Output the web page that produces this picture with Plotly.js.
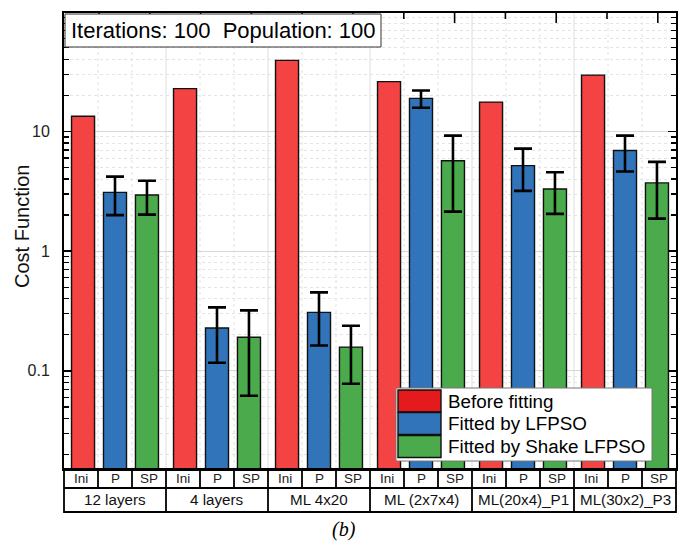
<!DOCTYPE html>
<html>
<head>
<meta charset="utf-8">
<script src="https://cdn.plot.ly/plotly-3.0.1.min.js"></script>
<style>html,body{margin:0;padding:0;background:#fff;}#chart{width:682px;height:543px;}</style>
</head>
<body>
<div id="chart"></div>
<script>
// ---- data ----
const groups = ['12 layers', '4 layers', 'ML 4x20', 'ML (2x7x4)', 'ML(20x4)_P1', 'ML(30x2)_P3'];
const subLabels = ['Ini', 'P', 'SP'];
const seriesNames = ['Before fitting', 'Fitted by LFPSO', 'Fitted by Shake LFPSO'];
const beforeFit = [13.4, 22.8, 39.3, 26.1, 17.6, 29.6];
const lfpso = [3.1, 0.228, 0.308, 18.9, 5.19, 6.93];
const lfpsoErr = [1.1, 0.111, 0.145, 3.1, 2.0, 2.3];
const shake = [2.95, 0.191, 0.158, 5.69, 3.31, 3.72];
const shakeErr = [0.93, 0.129, 0.08, 3.55, 1.26, 1.85];
const annotationText = 'Iterations: 100  Population: 100';
const yTitle = 'Cost Function';
const panelLabel = '(b)';

// ---- styles ----
const barColors = ['#F44343', '#3274BA', '#4BAA4B'];
const legendColors = ['#E41A1C', '#3274BA', '#4BAA4B'];
const FONT = 'Liberation Sans, Arial, sans-serif';

const errStyle = {type: 'data', visible: true, color: '#000', thickness: 2.6, width: 9};
const lineStyle = {color: '#111', width: 1.4};

const traces = [
  {type: 'bar', name: seriesNames[0], x: groups, y: beforeFit,
   marker: {color: barColors[0], line: lineStyle}, showlegend: false},
  {type: 'bar', name: seriesNames[1], x: groups, y: lfpso,
   error_y: Object.assign({array: lfpsoErr}, errStyle),
   marker: {color: barColors[1], line: lineStyle}, showlegend: false},
  {type: 'bar', name: seriesNames[2], x: groups, y: shake,
   error_y: Object.assign({array: shakeErr}, errStyle),
   marker: {color: barColors[2], line: lineStyle}, showlegend: false}
];

// plot area geometry (px) for converting decorations to paper coords
const W = 682, H = 543, mL = 64, mR = 6, mT = 13, mB = 74;
const pw = W - mL - mR, ph = H - mT - mB;
const py = (pxFromTop) => (H - mB - pxFromTop) / ph; // absolute px -> paper y
const nG = groups.length;
const gx = (pos) => pos / nG; // group units -> paper x

const shapes = [];
const annotations = [];

// vertical grid lines: solid at group boundaries, dotted at sub-cell boundaries
for (let g = 1; g < nG; g++) {
  shapes.push({type: 'line', xref: 'paper', yref: 'paper', x0: gx(g), x1: gx(g), y0: 0, y1: 1,
    line: {color: '#dedede', width: 1}, layer: 'below'});
}
for (let g = 0; g < nG; g++) {
  for (let k = 1; k < 3; k++) {
    const xx = gx(g + k / 3);
    shapes.push({type: 'line', xref: 'paper', yref: 'paper', x0: xx, x1: xx, y0: 0, y1: 1,
      line: {color: '#e2e2e2', width: 1, dash: 'dot'}, layer: 'below'});
  }
}

// top axis ticks
for (let k = 0; k < 12; k++) {
  const xx = (35 + 50.8 * k) / pw;
  const len = (k % 2 === 1) ? 10 : 6;
  shapes.push({type: 'line', xref: 'paper', yref: 'paper', x0: xx, x1: xx, y0: 1, y1: 1 - len / ph,
    line: {color: '#000', width: 1.6}});
}

// category table below the plot
const rowTop = 0, rowMid = py(488), rowBot = py(512);
shapes.push({type: 'rect', xref: 'paper', yref: 'paper', x0: 0, x1: 1, y0: rowBot, y1: rowTop,
  line: {color: '#000', width: 1.8}, fillcolor: 'rgba(0,0,0,0)'});
shapes.push({type: 'line', xref: 'paper', yref: 'paper', x0: 0, x1: 1, y0: rowMid, y1: rowMid,
  line: {color: '#000', width: 1.8}});
for (let g = 0; g < nG; g++) {
  if (g > 0) {
    shapes.push({type: 'line', xref: 'paper', yref: 'paper', x0: gx(g), x1: gx(g), y0: rowBot, y1: rowTop,
      line: {color: '#000', width: 1.8}});
  }
  for (let k = 1; k < 3; k++) {
    const xx = gx(g + k / 3);
    shapes.push({type: 'line', xref: 'paper', yref: 'paper', x0: xx, x1: xx, y0: rowMid, y1: rowTop,
      line: {color: '#000', width: 1.8}});
  }
  for (let k = 0; k < 3; k++) {
    annotations.push({xref: 'paper', yref: 'paper', x: gx(g + (k + 0.5) / 3), y: (rowTop + rowMid) / 2,
      text: subLabels[k], showarrow: false, xanchor: 'center', yanchor: 'middle',
      font: {family: FONT, size: 13.5, color: '#222'}});
  }
  annotations.push({xref: 'paper', yref: 'paper', x: gx(g + 0.5), y: (rowMid + rowBot) / 2,
    text: groups[g], showarrow: false, xanchor: 'center', yanchor: 'middle',
    font: {family: FONT, size: 15.2, color: '#111'}});
}

// info box at top-left
shapes.push({type: 'rect', xref: 'paper', yref: 'paper', x0: 1 / pw, x1: (381 - mL) / pw,
  y0: py(47), y1: py(14), line: {color: '#333', width: 1}, fillcolor: '#fff'});
annotations.push({xref: 'paper', yref: 'paper', x: (69 - mL) / pw, y: (py(47) + py(14)) / 2,
  text: annotationText, showarrow: false, xanchor: 'left', yanchor: 'middle',
  font: {family: FONT, size: 22, color: '#000'}});

// custom legend
const lgX0 = (396 - mL) / pw, lgX1 = (652 - mL) / pw;
shapes.push({type: 'rect', xref: 'paper', yref: 'paper', x0: lgX0, x1: lgX1, y0: py(461), y1: py(388),
  line: {color: '#777', width: 1}, fillcolor: '#fff'});
const swTop = [390, 412.5, 435.5];
for (let i = 0; i < 3; i++) {
  shapes.push({type: 'rect', xref: 'paper', yref: 'paper', x0: (398 - mL) / pw, x1: (441 - mL) / pw,
    y0: py(swTop[i] + 22), y1: py(swTop[i]), line: {color: '#111', width: 1.4}, fillcolor: legendColors[i]});
  annotations.push({xref: 'paper', yref: 'paper', x: (446 - mL) / pw, y: py(swTop[i] + 11),
    text: seriesNames[i], showarrow: false, xanchor: 'left', yanchor: 'middle',
    font: {family: FONT, size: 18.8, color: '#000'}});
}

// y-axis title
annotations.push({xref: 'paper', yref: 'paper', x: (22 - mL) / pw, y: py(226),
  text: yTitle, textangle: -90, showarrow: false, xanchor: 'center', yanchor: 'middle',
  font: {family: FONT, size: 20, color: '#111'}});

// panel label
annotations.push({xref: 'paper', yref: 'paper', x: (344 - mL) / pw, y: py(529),
  text: '<i>' + panelLabel + '</i>', showarrow: false, xanchor: 'center', yanchor: 'middle',
  borderpad: 0, font: {family: 'Liberation Serif, Times New Roman, serif', size: 20, color: '#000'}});

const layout = {
  width: W, height: H,
  margin: {l: mL, r: mR, t: mT, b: mB, pad: 0},
  paper_bgcolor: '#fff', plot_bgcolor: '#fff',
  barmode: 'group', bargap: 0.06, bargroupgap: 0.28,
  showlegend: false,
  font: {family: FONT, color: '#000'},
  xaxis: {type: 'category', range: [-0.5, nG - 0.5], showline: true, linecolor: '#000', linewidth: 2,
    mirror: true, ticks: '', showticklabels: false, showgrid: false, zeroline: false, fixedrange: true},
  yaxis: {type: 'log', range: [-1.82, 1.99], showline: true, linecolor: '#000', linewidth: 2,
    mirror: 'allticks', ticks: 'inside', ticklen: 8, tickwidth: 1.6, tickcolor: '#000', dtick: 1,
    showgrid: true, gridcolor: '#d8d8d8', gridwidth: 1, zeroline: false,
    tickfont: {family: FONT, size: 16, color: '#222'}, ticklabelstandoff: 9,
    minor: {ticks: 'inside', ticklen: 5, tickwidth: 1.3, tickcolor: '#000', dtick: 'D1',
      showgrid: true, gridcolor: '#e4e4e4', griddash: 'dot', gridwidth: 1},
    automargin: false},
  shapes: shapes,
  annotations: annotations
};

Plotly.newPlot('chart', traces, layout, {displayModeBar: false, staticPlot: true});
</script>
</body>
</html>
